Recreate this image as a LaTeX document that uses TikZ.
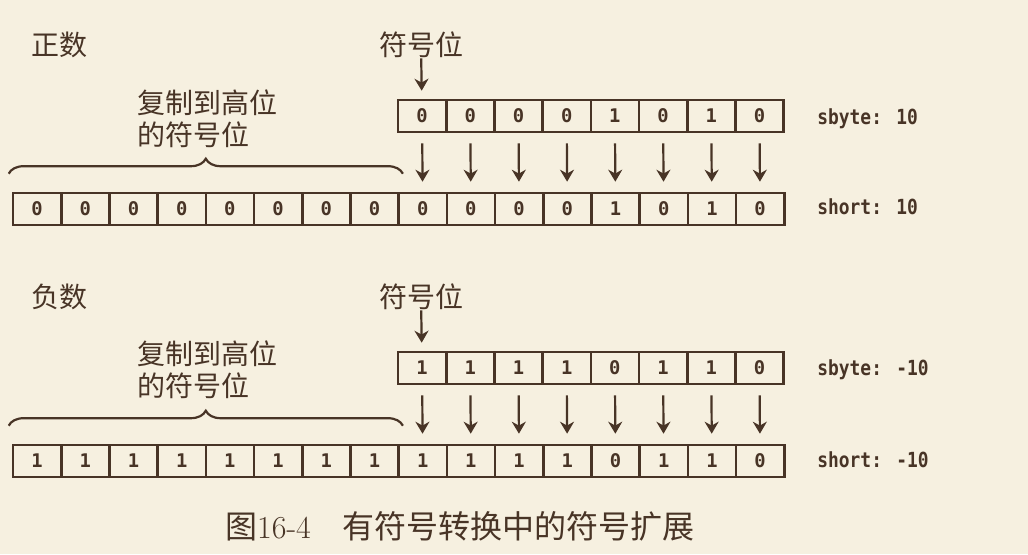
\documentclass[tikz,border=0pt]{standalone}
\usepackage{fontspec}
\setmonofont{DejaVu Sans Mono}
\newfontfamily\cjk{Noto Sans CJK SC}
\newfontfamily\tagfont[FakeStretch=0.86]{DejaVu Sans Mono}
\usetikzlibrary{positioning,arrows.meta,decorations.pathreplacing,calc}

\definecolor{ink}{RGB}{72,52,38}
\definecolor{paper}{RGB}{246,240,224}

\tikzset{
  bit/.style={draw=ink,line width=1.3pt,minimum width=24.1pt,minimum height=16pt,
    inner sep=0pt,text=ink,font=\ttfamily\bfseries\fontsize{9.4}{9}\selectfont},
  zh/.style={inner sep=0pt,text=ink,font=\cjk\fontsize{14}{16}\selectfont},
  tag/.style={inner sep=0pt,anchor=west,text=ink,font=\tagfont\bfseries\fontsize{10.4}{10}\selectfont},
  copy/.style={->,draw=ink,line width=1.1pt},
  span/.style={draw=ink,line width=1.1pt,decorate,decoration={brace,amplitude=7.5pt}},
}

\begin{document}
\begin{tikzpicture}[x=0.5pt,y=0.5pt,>={Stealth[length=6pt,width=7pt]}]
    \fill[paper] (0,0) rectangle (1028,554);

    % positive
    \node[zh] (pos) at (60,509) {正数};
    \node[zh] (psign) at (421,509) {符号位};
    \foreach \v [count=\i] in {0,0,0,0,1,0,1,0}
        \node[bit] (pb\i) at ({398+48.2*(\i-0.5)},438) {\v};
    \foreach \v [count=\i] in {0,0,0,0,0,0,0,0,0,0,0,0,1,0,1,0}
        \node[bit] (ps\i) at ({13+48.2*(\i-0.5)},345) {\v};
    \draw[copy,shorten >=4pt] (psign) -- (pb1);
    \foreach \i in {1,...,8} {
        \pgfmathtruncatemacro\j{\i+8}
        \draw[copy,shorten <=5pt,shorten >=5pt] (pb\i) -- (ps\j);
    }
    \draw[span] ($(ps1.north west)+(-3,18)$) -- ($(ps8.north east)+(3,18)$);
    \node[zh,align=left,anchor=west] (pnote) at (137,435) {复制到高位\\的符号位};
    \node[tag] (pbt) at (817,435) {sbyte: 10};
    \node[tag] (pst) at (817,347) {short: 10};

    % negative
    \node[zh] (neg) at (60,257) {负数};
    \node[zh] (nsign) at (421,257) {符号位};
    \foreach \v [count=\i] in {1,1,1,1,0,1,1,0}
        \node[bit] (nb\i) at ({398+48.2*(\i-0.5)},186) {\v};
    \foreach \v [count=\i] in {1,1,1,1,1,1,1,1,1,1,1,1,0,1,1,0}
        \node[bit] (ns\i) at ({13+48.2*(\i-0.5)},93) {\v};
    \draw[copy,shorten >=4pt] (nsign) -- (nb1);
    \foreach \i in {1,...,8} {
        \pgfmathtruncatemacro\j{\i+8}
        \draw[copy,shorten <=5pt,shorten >=5pt] (nb\i) -- (ns\j);
    }
    \draw[span] ($(ns1.north west)+(-3,18)$) -- ($(ns8.north east)+(3,18)$);
    \node[zh,align=left,anchor=west] (nnote) at (137,184) {复制到高位\\的符号位};
    \node[tag] (nbt) at (817,184) {sbyte: -10};
    \node[tag] (nst) at (817,94) {short: -10};

    % caption
    \node[text=ink,font=\cjk\fontsize{16}{16}\selectfont] (cap) at (460,28)
        {图{\rmfamily 16-4}\hspace{1em}有符号转换中的符号扩展};
\end{tikzpicture}
\end{document}
